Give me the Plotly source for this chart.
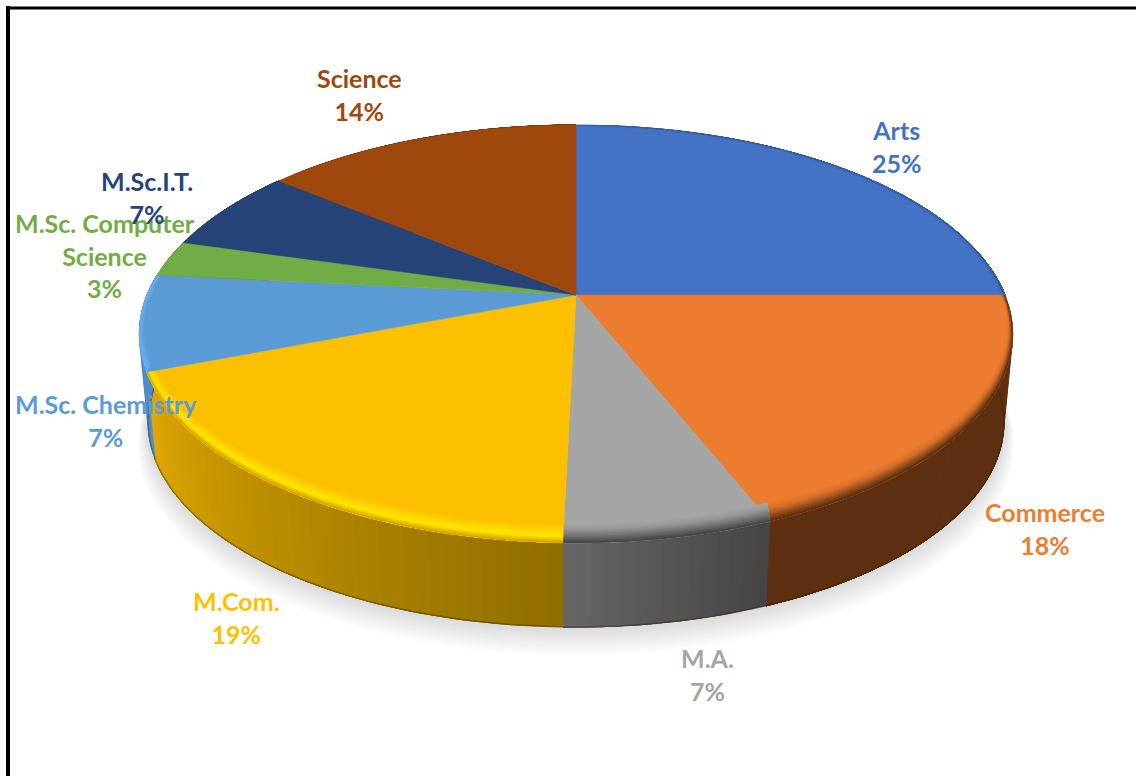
import numpy as np
import plotly.graph_objects as go

# ---- data ----
categories = ["Arts", "Commerce", "M.A.", "M.Com.", "M.Sc. Chemistry",
              "M.Sc. Computer<br>Science", "M.Sc.I.T.", "Science"]
label_percent = [25, 18, 7, 19, 7, 3, 7, 14]
# slice sizes as actually drawn (estimated from the slice boundaries)
drawn_share = [25.0, 18.9, 6.5, 18.8, 7.4, 2.8, 6.5, 14.1]

colors = ["#4472C4", "#EB7C30", "#A5A5A5", "#FCC000", "#5B9BD5", "#70AD47", "#264478", "#9E480E"]
label_colors = ["#4472C4", "#ED7D31", "#A5A5A5", "#FFC000", "#5B9BD5", "#70AD47", "#264478", "#9E480E"]
label_xy = [(897, 146), (1045, 528), (707, 674), (236, 617), (106, 420), (105, 255), (147, 197), (359, 94)]

# side wall colours: (at start angle, at end angle)
wall_shades = [("#2E5596", "#2E5596"), ("#5E3011", "#5E3011"), ("#444444", "#666666"),
               ("#8F6E00", "#E0A800"), ("#4E8BC8", "#4E8BC8"), ("#5A8A3A", "#5A8A3A"),
               ("#1E3660", "#1E3660"), ("#7A380B", "#7A380B")]
# rim colour stops, from the inner edge of the bevel to its outer edge
rim_stops = [
    ["#4472C4", "#4472C4", "#3F69B6", "#2E5596"],
    ["#EB7C30", "#D87029", "#9A5220", "#5E3011"],
    ["#A5A5A5", "#959595", "#707070", "#484848"],
    ["#FCC000", "#FFD400", "#FFE600", "#D9A400"],
    ["#5B9BD5", "#5FA2DE", "#64ACEE", "#64ACEE"],
    ["#70AD47", "#70AD47", "#70AD47", "#70AD47"],
    ["#264478", "#264478", "#264478", "#264478"],
    ["#9E480E", "#9E480E", "#9E480E", "#9E480E"],
]

# ---- perspective projection of the disc ----
CX, CY, A, B, K = 576.0, 295.0, 201.7, 429.0, 0.1866
DEPTH, BASE_SCALE = 89.0, 0.98
BEVEL_INSET, BEVEL_LIFT = 0.012, 16.0


def top(r, phi):
    c, s = r * np.cos(phi), r * np.sin(phi)
    w = 1 + K * c
    return CX + B * s / w, CY - A * c / w


def bevel(t, phi):
    """Curve on the top face, t=0 is the outer edge, t=1 the inner edge of the bevel."""
    x, y = top(1 - BEVEL_INSET * t, phi)
    return x, y - BEVEL_LIFT * t * np.sqrt(np.clip(-np.cos(phi), 0, 1))


def base(r, phi, grow=1.0, drop=0.0):
    x, y = top(r, phi)
    return (CX + (x - CX) * BASE_SCALE * grow,
            CY + DEPTH + drop + (y - CY) * BASE_SCALE * grow)


def mix(c0, c1, t):
    a = [int(c0[i:i + 2], 16) for i in (1, 3, 5)]
    b = [int(c1[i:i + 2], 16) for i in (1, 3, 5)]
    return "#%02x%02x%02x" % tuple(round(p + (q - p) * t) for p, q in zip(a, b))


def ramp(stops, u):
    pos = u * (len(stops) - 1)
    k = min(int(pos), len(stops) - 2)
    return mix(stops[k], stops[k + 1], pos - k)


fig = go.Figure()


def poly(x, y, color, edge=True):
    fig.add_trace(go.Scatter(
        x=np.append(x, x[0]), y=np.append(y, y[0]), mode="lines", fill="toself",
        fillcolor=color, line=dict(color=color if edge else "rgba(0,0,0,0)", width=0.5 if edge else 0),
        hoverinfo="skip", showlegend=False))


# frame (thick left and top rule)
fig.add_trace(go.Scatter(x=[8, 8], y=[776, 6], mode="lines",
                         line=dict(color="#000000", width=4), hoverinfo="skip", showlegend=False))
fig.add_trace(go.Scatter(x=[6, 1136], y=[8, 8], mode="lines",
                         line=dict(color="#000000", width=3), hoverinfo="skip", showlegend=False))

# soft ground shadow
ring = np.linspace(0, 2 * np.pi, 240)
for i in range(12, 0, -1):
    x, y = base(1.0, ring, grow=1 + 0.002 * i, drop=1.9 * i)
    poly(x, y, "rgba(90,90,90,0.018)", edge=False)

edges = np.cumsum([0] + drawn_share) / sum(drawn_share) * 2 * np.pi

# side walls: each strip runs on to the slice end and is painted over by the next one
for i in range(len(categories)):
    p0, p1 = edges[i], edges[i + 1]
    n = max(2, int((p1 - p0) / np.radians(1.5)))
    steps = np.linspace(p0, p1, n + 1)
    for j in range(n):
        color = mix(wall_shades[i][0], wall_shades[i][1], (j + 0.5) / n)
        arc = np.linspace(steps[j], p1, 60)
        tx, ty = top(1.0, arc)
        bx, by = base(1.0, arc)
        poly(np.r_[tx, bx[::-1]], np.r_[ty, by[::-1]], color)
    # thin darker foot of the wall
    arc = np.linspace(p0, p1, 60)
    bx, by = base(1.0, arc)
    fig.add_trace(go.Scatter(x=bx, y=by, mode="lines",
                             line=dict(color="rgba(40,30,0,0.35)", width=1.5),
                             hoverinfo="skip", showlegend=False))

# top face, then the bevel painted from its inner edge outwards
LEVELS = 14
for i in range(len(categories)):
    arc = np.linspace(edges[i], edges[i + 1], 90)
    x, y = top(1.0, arc)
    cx, cy = top(0.0, np.array([0.0]))
    poly(np.r_[cx, x], np.r_[cy, y], colors[i])
    if rim_stops[i][0] == rim_stops[i][-1]:
        continue
    ox, oy = top(1.0, arc)
    for lev in range(LEVELS):
        t = 1 - lev / LEVELS
        ix, iy = bevel(t, arc)
        poly(np.r_[ox, ix[::-1]], np.r_[oy, iy[::-1]], ramp(rim_stops[i], lev / (LEVELS - 1)), edge=False)

for name, pct, color, (lx, ly) in zip(categories, label_percent, label_colors, label_xy):
    fig.add_annotation(x=lx, y=ly, text=f"<b>{name}<br>{pct}%</b>", showarrow=False,
                       xanchor="center", yanchor="middle", align="center",
                       font=dict(family="Lato", size=25, color=color))

fig.update_layout(
    width=1136, height=776, margin=dict(l=0, r=0, t=0, b=0),
    paper_bgcolor="#FFFFFF", plot_bgcolor="#FFFFFF", showlegend=False,
    xaxis=dict(range=[0, 1136], visible=False, fixedrange=True),
    yaxis=dict(range=[776, 0], visible=False, fixedrange=True),
)
fig.write_html("out.html", config={"displayModeBar": False},
               post_script="document.body.style.margin='0';document.body.style.overflow='hidden';")
